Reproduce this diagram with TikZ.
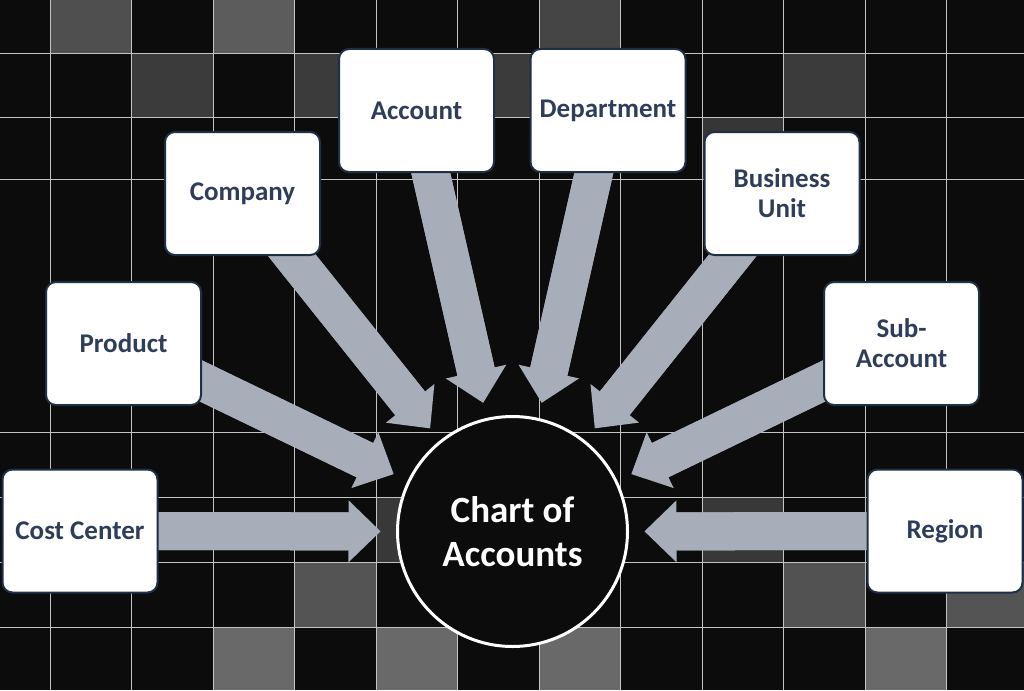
\documentclass[tikz,border=0pt]{standalone}
\usepackage{fontspec}
\setmainfont{Carlito}
\usetikzlibrary{positioning, arrows.meta}

\definecolor{boardbg}{HTML}{0C0C0C}
\definecolor{gridgray}{HTML}{C4C4C4}
\definecolor{feedgray}{RGB}{168,173,186}
\definecolor{fieldtext}{HTML}{2E3D5A}
\definecolor{fieldedge}{HTML}{1F2F45}

\pgfdeclarelayer{board}
\pgfdeclarelayer{flows}
\pgfsetlayers{board,flows,main}

\tikzset{
    gridline/.style = {draw = gridgray, line width = 0.9pt},
    field/.style = {draw = fieldedge, line width = 2pt, fill = white, rounded corners = 10pt,
        minimum width = 155pt, minimum height = 123pt, inner sep = 0pt, align = center,
        text = fieldtext, font = \bfseries\fontsize{27}{30}\selectfont},
    hub/.style = {circle, draw = white, line width = 3pt, fill = boardbg, minimum size = 230pt,
        inner sep = 0pt, align = center, text = white, font = \bfseries\fontsize{37}{44}\selectfont},
    feed/.style = {draw = feedgray, line width = 38pt, shorten > = 15.5pt,
        -{Triangle[length = 32pt, width = 62pt, line width = 0pt]}},
    feedbody/.style = {draw = feedgray, line width = 38pt, shorten > = 36pt}
}

\begin{document}
\begin{tikzpicture}[x = 1pt, y = -1pt]
                \useasboundingbox (0, 0) rectangle (1024, 690);

                \begin{pgfonlayer}{board}
                    \fill [boardbg] (0, 0) rectangle (1024, 690);
                    \foreach \xa/\ya/\xb/\yb/\pct in {50/0/131.5/53/31, 213/0/294.5/53/36, 539/0/620.5/53/27,
                        131.5/53/213/117/23, 294.5/53/376/117/23, 457.5/53/539/117/23, 783.5/53/865/117/23,
                        702/117/783.5/179/21, 376/497/457.5/562/22, 702/497/783.5/562/22,
                        294.5/562/376/627/33, 783.5/562/865/627/32, 946.5/562/1024/627/33,
                        213/627/294.5/690/41, 376/627/457.5/690/41, 539/627/620.5/690/41, 865/627/946.5/690/41}
                        \fill [white!\pct!black] (\xa, \ya) rectangle (\xb, \yb);
                    \foreach \k in {0, ..., 11}
                        \draw [gridline] ({50 + 81.5 * \k}, 0) -- ({50 + 81.5 * \k}, 690);
                    \foreach \row in {53, 117, 179, 432, 497, 562, 627}
                        \draw [gridline] (0, \row) -- (1024, \row);
                \end{pgfonlayer}

                \node [hub] (coa) at (512.5, 531.5) {Chart of\\Accounts};

                \node [field] (account) at (416.5, 110.5) {Account};
                \node [field] (department) at (608, 110.5) {Department};
                \node [field] (company) at (242.5, 193.5) {Company};
                \node [field] (businessunit) at (782, 193.5) {Business\\Unit};
                \node [field] (product) at (123.5, 343.5) {Product};
                \node [field] (subaccount) at (901.5, 343.5) {Sub-\\Account};
                \node [field] (costcenter) at (80, 531) {Cost Center};
                \node [field] (region) at (945, 531) {Region};

                \begin{pgfonlayer}{flows}
                    \foreach \src in {account, department, company, businessunit, product, subaccount, costcenter, region} {
                        \draw [feed] (\src.center) -- (coa);
                        \draw [feedbody] (\src.center) -- (coa);
                    }
                \end{pgfonlayer}
            \end{tikzpicture}
\end{document}
